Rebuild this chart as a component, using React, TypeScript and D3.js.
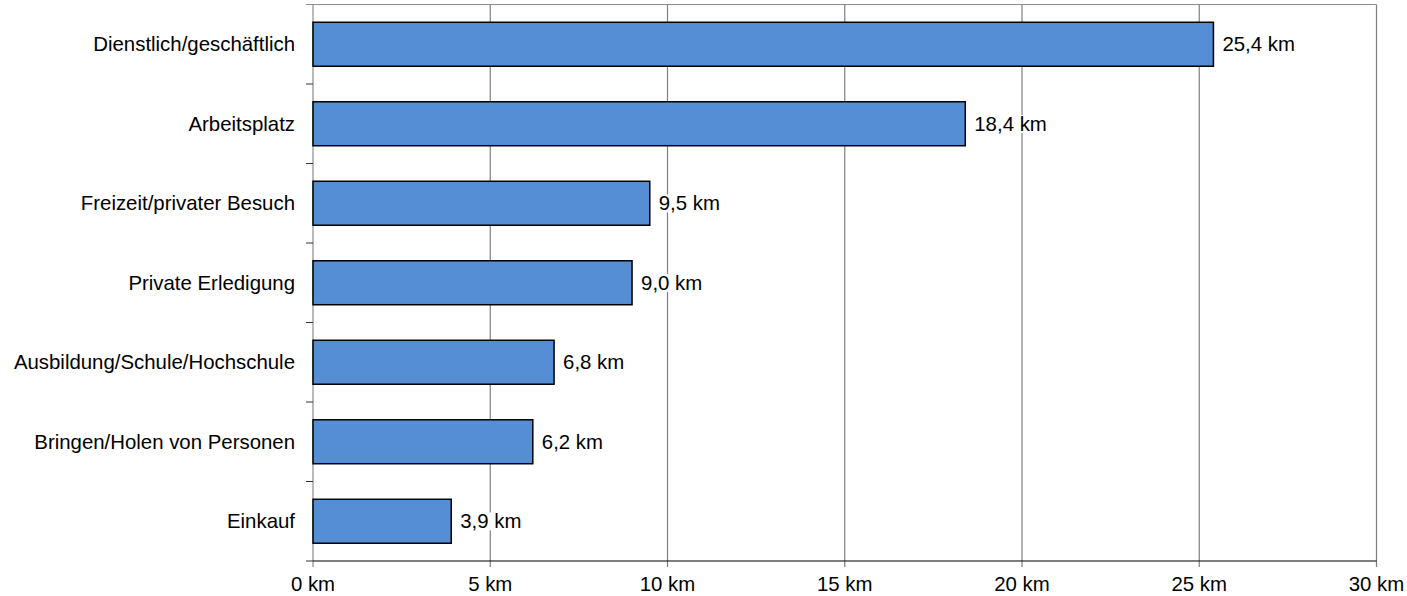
import React, { useEffect, useRef } from "react";
import * as d3 from "d3";

const categories = [
  "Dienstlich/geschäftlich",
  "Arbeitsplatz",
  "Freizeit/privater Besuch",
  "Private Erledigung",
  "Ausbildung/Schule/Hochschule",
  "Bringen/Holen von Personen",
  "Einkauf",
];
const distances = [25.4, 18.4, 9.5, 9.0, 6.8, 6.2, 3.9];
const xTicks = [0, 5, 10, 15, 20, 25, 30];

const fmt = (v: number) => v.toFixed(1).replace(".", ",") + " km";

const App: React.FC = () => {
  const chartRef = useRef<SVGSVGElement | null>(null);

  useEffect(() => {
    d3.select(chartRef.current).selectAll("*").remove();

    const margin = { top: 4.5, left: 313 };
    const W = 1407;
    const H = 596;
    const width = 1376.5 - margin.left;
    const height = 561 - margin.top;
    const font = "'Liberation Sans', Arial, sans-serif";
    const fs = 20.4;

    const svg = d3
      .select(chartRef.current)
      .attr("width", W)
      .attr("height", H)
      .append("g")
      .attr("transform", `translate(${margin.left},${margin.top})`);

    const x = d3.scaleLinear().domain([0, 30]).range([0, width]);
    const y = d3
      .scaleBand()
      .domain(categories)
      .range([0, height])
      .paddingInner(0.447)
      .paddingOuter(0.2235);

    const data = categories.map((c, i) => ({ c, v: distances[i] }));

    // gridlines
    svg
      .selectAll("line.grid")
      .data(xTicks)
      .enter()
      .append("line")
      .attr("class", "grid")
      .attr("x1", (d) => x(d))
      .attr("x2", (d) => x(d))
      .attr("y1", 0)
      .attr("y2", height + 6)
      .attr("stroke", (d) => (d === 0 ? "#8c8c8c" : "#7f7f7f"))
      .attr("stroke-width", 1.2);

    // top frame line
    svg
      .append("line")
      .attr("x1", -7)
      .attr("x2", width)
      .attr("y1", 0)
      .attr("y2", 0)
      .attr("stroke", "#8c8c8c")
      .attr("stroke-width", 1.2);

    // category boundary ticks
    const step = height / categories.length;
    svg
      .selectAll("line.ytick")
      .data(d3.range(1, categories.length + 1))
      .enter()
      .append("line")
      .attr("x1", -7)
      .attr("x2", 0)
      .attr("y1", (d) => d * step)
      .attr("y2", (d) => d * step)
      .attr("stroke", "#333")
      .attr("stroke-width", 1);

    // bars
    svg
      .selectAll("rect.bar")
      .data(data)
      .enter()
      .append("rect")
      .attr("class", "bar")
      .attr("x", x(0))
      .attr("y", (d) => y(d.c) ?? 0)
      .attr("width", (d) => x(d.v) - x(0))
      .attr("height", y.bandwidth())
      .attr("fill", "#558ed5")
      .attr("stroke", "#000")
      .attr("stroke-width", 1.5);

    // x axis line
    svg
      .append("line")
      .attr("x1", 0)
      .attr("x2", width)
      .attr("y1", height)
      .attr("y2", height)
      .attr("stroke", "#000")
      .attr("stroke-width", 1.2);

    // value labels (white box hides gridlines behind text)
    const vals = svg
      .selectAll("g.val")
      .data(data)
      .enter()
      .append("g")
      .attr("class", "val")
      .attr(
        "transform",
        (d) => `translate(${x(d.v) + 9},${(y(d.c) ?? 0) + y.bandwidth() / 2})`
      );
    const bg = vals.append("rect").attr("fill", "#fff");
    const txt = vals
      .append("text")
      .attr("dy", "0.35em")
      .attr("font-family", font)
      .attr("font-size", fs)
      .attr("fill", "#000")
      .text((d) => fmt(d.v));
    txt.each(function (_, i) {
      const b = (this as SVGTextElement).getBBox();
      d3.select(bg.nodes()[i])
        .attr("x", b.x - 2)
        .attr("y", b.y + 2)
        .attr("width", b.width + 4)
        .attr("height", b.height - 4);
    });

    // category labels
    svg
      .selectAll("text.cat")
      .data(data)
      .enter()
      .append("text")
      .attr("x", -18)
      .attr("y", (d) => (y(d.c) ?? 0) + y.bandwidth() / 2)
      .attr("dy", "0.35em")
      .attr("text-anchor", "end")
      .attr("font-family", font)
      .attr("font-size", fs)
      .attr("fill", "#000")
      .text((d) => d.c);

    // x tick labels
    svg
      .selectAll("text.xt")
      .data(xTicks)
      .enter()
      .append("text")
      .attr("x", (d) => x(d))
      .attr("y", height + 30)
      .attr("text-anchor", "middle")
      .attr("font-family", font)
      .attr("font-size", fs)
      .attr("fill", "#000")
      .text((d) => `${d} km`);
  }, []);

  return (
    <div style={{ position: "absolute", left: 0, top: 0 }}>
      <svg ref={chartRef}></svg>
    </div>
  );
};

export default App;
